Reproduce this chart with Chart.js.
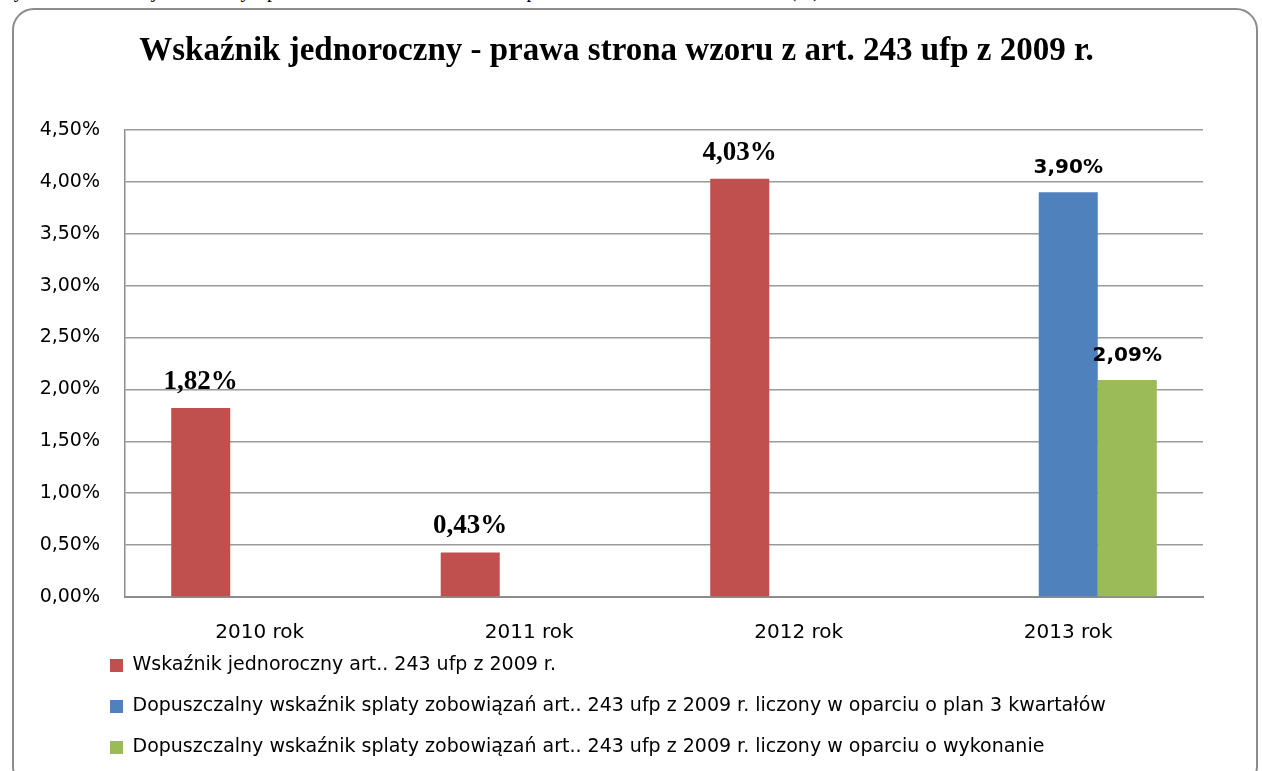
<!DOCTYPE html>
<html lang="pl">
<head>
<meta charset="UTF-8" />
<title>Wskaźnik jednoroczny</title>
<script src="https://cdn.jsdelivr.net/npm/chart.js@4.4.2/dist/chart.umd.min.js"></script>
<style>
  html, body { margin: 0; padding: 0; background: #fff; overflow: hidden; }
  body { width: 1262px; height: 771px; position: relative; }
  .caption {
    position: absolute; left: -4px; top: -21px; white-space: nowrap;
    font: 20px "Liberation Serif", serif; color: #000;
  }
  .frame {
    position: absolute; left: 12px; top: 8px; width: 1246px; height: 780px;
    border: 2px solid #8c8c8c; border-radius: 22px; box-sizing: border-box;
  }
  .wrap { position: absolute; left: 0; top: 0; width: 1262px; height: 767px; }
</style>
</head>
<body>
<div class="caption">Wykres. Wskaźnik jednoroczny - prawa strona wzoru z art. 243 ufp z 2009 r. w latach 2010 - 2013 (%)</div>
<div class="frame"></div>
<div class="wrap"><canvas id="chart"></canvas></div>
<script>
const categories = ["2010 rok", "2011 rok", "2012 rok", "2013 rok"];
const seriesNames = [
  "Wskaźnik jednoroczny art.. 243 ufp z 2009 r.",
  "Dopuszczalny wskaźnik splaty zobowiązań art.. 243 ufp z 2009 r. liczony w oparciu o plan 3 kwartałów",
  "Dopuszczalny wskaźnik splaty zobowiązań art.. 243 ufp z 2009 r. liczony w oparciu o wykonanie"
];
const jednoroczny = [1.82, 0.43, 4.03, null];
const planKwartalow = [null, null, null, 3.90];
const wykonanie = [null, null, null, 2.09];
const colors = ["#C0504D", "#4F81BD", "#9BBB59"];

const fmt = v => v.toFixed(2).replace(".", ",") + "%";

// value labels above the bars: serif for the red series, sans for the 2013 pair
const valueLabels = {
  id: "valueLabels",
  afterDatasetsDraw(chart) {
    const { ctx } = chart;
    ctx.save();
    ctx.textAlign = "center";
    ctx.textBaseline = "alphabetic";
    ctx.fillStyle = "#000";
    chart.data.datasets.forEach((ds, di) => {
      ctx.font = di === 0 ? "bold 27px 'Liberation Serif', serif" : "bold 20px 'DejaVu Sans', sans-serif";
      chart.getDatasetMeta(di).data.forEach((bar, i) => {
        const v = ds.data[i];
        if (v == null) return;
        ctx.fillText(fmt(v), bar.x, bar.y - 19);
      });
    });
    ctx.restore();
  }
};

// legend rows start under the plot; x labels may hang into the legend box
const layoutTweaks = {
  id: "layoutTweaks",
  afterLayout(chart) {
    if (chart.legend) chart.legend.left = 88;
    chart.scales.x.bottom += 20;
  }
};

new Chart(document.getElementById("chart"), {
  type: "bar",
  data: {
    labels: categories,
    datasets: [
      { label: seriesNames[0], data: jednoroczny, backgroundColor: colors[0] },
      { label: seriesNames[1], data: planKwartalow, backgroundColor: colors[1] },
      { label: seriesNames[2], data: wykonanie, backgroundColor: colors[2] }
    ]
  },
  options: {
    responsive: true,
    maintainAspectRatio: false,
    animation: false,
    categoryPercentage: 0.657,
    barPercentage: 1,
    layout: { padding: { left: 30, right: 59, top: 0, bottom: 0 } },
    scales: {
      x: {
        grid: { display: false, drawTicks: false },
        border: { display: true, color: "#8c8c8c", width: 2 },
        ticks: { color: "#000", font: { family: "DejaVu Sans", size: 20 }, padding: 24 },
        afterFit(scale) { scale.height = 37; }
      },
      y: {
        min: 0,
        max: 4.5,
        grid: { color: "#9a9a9a", lineWidth: 1.5, drawTicks: false },
        border: { display: true, color: "#8c8c8c", width: 1.5 },
        ticks: {
          stepSize: 0.5,
          color: "#000",
          font: { family: "DejaVu Sans", size: 19 },
          padding: 25,
          callback: v => fmt(v)
        },
        afterFit(scale) { scale.width = 95; }
      }
    },
    plugins: {
      title: {
        display: true,
        text: "Wskaźnik jednoroczny - prawa strona wzoru z art. 243 ufp z 2009 r.",
        color: "#000",
        font: { family: "Liberation Serif", size: 33, weight: "bold" },
        padding: { top: 32, bottom: 58.4 }
      },
      legend: {
        position: "bottom",
        align: "start",
        labels: {
          color: "#000",
          font: { family: "DejaVu Sans", size: 19 },
          boxWidth: 13,
          boxHeight: 13,
          padding: 22
        }
      },
      tooltip: { enabled: false }
    }
  },
  plugins: [valueLabels, layoutTweaks]
});
</script>
</body>
</html>
